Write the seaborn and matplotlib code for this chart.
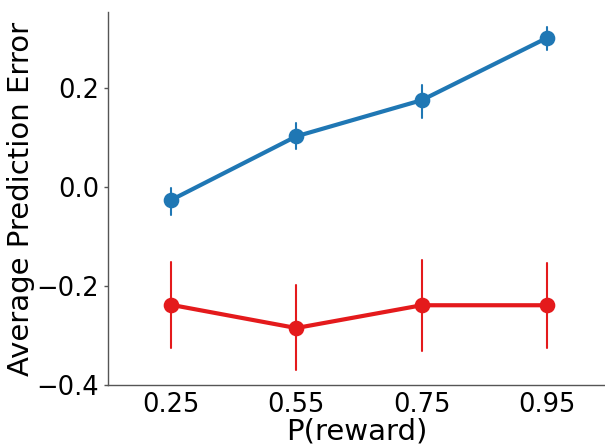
"""
Average prediction error by reward probability
"""
import numpy as np
import pandas as pd
import seaborn as sns
from matplotlib import pyplot as plt

# Values: (lower bound, mean, upper bound)
p_reward = ['0.25', '0.55', '0.75', '0.95']
blue_mean = [-0.027, 0.102, 0.175, 0.301]
blue_low = [-0.057, 0.076, 0.140, 0.276]
blue_high = [-0.003, 0.128, 0.205, 0.322]
red_mean = [-0.238, -0.285, -0.239, -0.239]
red_low = [-0.325, -0.370, -0.332, -0.326]
red_high = [-0.151, -0.199, -0.148, -0.153]
groups = ['blue', 'red']
colors = ['#1f77b4', '#e41a1c']

# Long table: three rows per point, so median = mean and 100% interval = error bar
rows = []
for group, lo, mid, hi in [('blue', blue_low, blue_mean, blue_high),
                           ('red', red_low, red_mean, red_high)]:
    for p, a, b, c in zip(p_reward, lo, mid, hi):
        for v in (a, b, c):
            rows.append({'P(reward)': p, 'value': v, 'group': group})
df = pd.DataFrame(rows)

sns.set_style('white')
plt.rcParams['font.family'] = ['DejaVu Sans']
plt.rcParams['text.color'] = 'black'
plt.rcParams['axes.labelcolor'] = 'black'
plt.rcParams['xtick.color'] = 'black'
plt.rcParams['ytick.color'] = 'black'

fig = plt.figure(figsize=(6.05, 4.45), dpi=100)
ax = fig.add_axes([108 / 605, 60 / 445, 497 / 605, 373 / 445])
sns.pointplot(data=df, x='P(reward)', y='value', hue='group', order=p_reward,
              hue_order=groups, palette=colors, estimator='median',
              errorbar=('pi', 100), linewidth=3, markersize=9,
              err_kws={'linewidth': 1.5}, ax=ax)
ax.get_legend().remove()

ax.set_xlim(-0.5, 3.46)
ax.set_ylim(-0.4, 0.353)
ax.set_yticks([-0.4, -0.2, 0.0, 0.2])
ax.tick_params(axis='both', labelsize=18.5)
ax.tick_params(axis='y', length=3, width=1, color='#555555', left=True)
ax.tick_params(axis='x', length=0, pad=5)
ax.set_xlabel('P(reward)', fontsize=21, labelpad=0)
ax.set_ylabel('Average Prediction Error', fontsize=21, labelpad=1)
sns.despine(ax=ax)
for side in ['left', 'bottom']:
    ax.spines[side].set_color('#555555')
    ax.spines[side].set_linewidth(1)

fig.savefig('out.png', dpi=100)
